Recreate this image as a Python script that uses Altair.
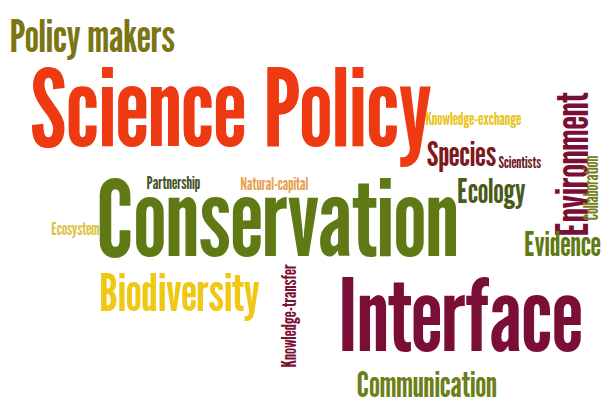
import altair as alt
import pandas as pd

# Word cloud: words and their weights (font size)
words = ["Policy makers", "Science Policy", "Knowledge-exchange", "Species", "Scientists",
         "Environment", "Collaboration", "Partnership", "Natural-capital", "Ecology",
         "Ecosystem", "Conservation", "Evidence", "Biodiversity", "Knowledge-transfer",
         "Interface", "Communication"]
weights = [46, 109, 17.5, 35, 16.5, 45, 19, 17.7, 17.3, 34, 17.2, 107.5, 33.7, 52, 20, 102.5, 35.5]

# Layout of the cloud (word anchor positions and orientation)
pos_x = [93, 233, 478, 466, 525, 594, 604, 175, 277, 496, 76, 280, 568, 181, 299, 465, 431]
pos_y = [50, 145, 124, 166, 167.5, 164, 188, 188.5, 189.5, 203, 235, 257, 256.5, 312, 317, 352, 398.5]
angles = [0, 0, 0, 0, 0, 270, 270, 0, 0, 0, 0, 0, 0, 0, 270, 0, 0]
colors = ["#7b7514", "#ee3a12", "#e8c41c", "#7d1a20", "#6b1a24",
          "#7a1035", "#7a8020", "#45502a", "#e8a050", "#4a5a1a",
          "#e0c040", "#5f7a14", "#5f7a14", "#f0c814", "#7a1035",
          "#7a0e36", "#6b8018"]

df = pd.DataFrame({"word": words, "weight": weights, "x": pos_x, "y": pos_y,
                   "angle": angles, "color": colors})

base = alt.Chart(df).mark_text(font="League Gothic", align="center", baseline="alphabetic").encode(
    x=alt.X("x:Q", scale=alt.Scale(domain=[8, 608], nice=False, zero=False), axis=None),
    y=alt.Y("y:Q", scale=alt.Scale(domain=[8, 404], nice=False, zero=False, reverse=True), axis=None),
    text="word:N",
    size=alt.Size("weight:Q", scale=None, legend=None),
    angle=alt.Angle("angle:Q", scale=None),
    color=alt.Color("color:N", scale=None, legend=None),
)

chart = base.properties(width=600, height=396, padding=0, autosize="none",
                        background="white").configure_view(stroke=None)
chart.save("out.html", embed_options={"renderer": "svg", "actions": False})
